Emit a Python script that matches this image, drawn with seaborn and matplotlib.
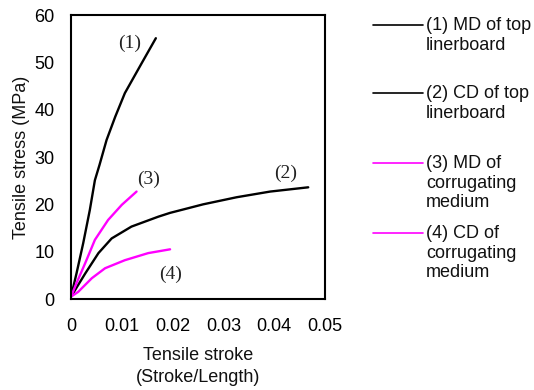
import matplotlib
matplotlib.use("Agg")
import matplotlib.pyplot as plt
from matplotlib.lines import Line2D
import seaborn as sns
import pandas as pd

sns.set_theme(style="white")
plt.rcParams['font.family'] = ['Liberation Sans', 'DejaVu Sans']

# Data
s1_x = [0.0, 0.0011, 0.0024, 0.0037, 0.0047, 0.0056, 0.0070, 0.0087, 0.0106, 0.0139, 0.0167]
s1_y = [0.5, 5.5, 11.8, 18.8, 25.1, 28.3, 33.6, 38.5, 43.5, 49.8, 55.1]
s2_x = [0.0, 0.0028, 0.0054, 0.0080, 0.0119, 0.0172, 0.0195, 0.0224, 0.0260, 0.0326, 0.0392, 0.0467]
s2_y = [0.5, 5.4, 9.7, 12.8, 15.3, 17.4, 18.2, 19.0, 20.0, 21.5, 22.7, 23.6]
s3_x = [0.0, 0.0011, 0.0028, 0.0047, 0.0073, 0.0100, 0.0129]
s3_y = [0.5, 3.4, 7.6, 12.5, 16.7, 19.9, 22.7]
s4_x = [0.0, 0.0014, 0.0041, 0.0067, 0.0106, 0.0152, 0.0195]
s4_y = [0.5, 1.5, 4.4, 6.5, 8.2, 9.7, 10.5]

series_labels = ["(1) MD of top\nlinerboard", "(2) CD of top\nlinerboard",
                 "(3) MD of\ncorrugating\nmedium", "(4) CD of\ncorrugating\nmedium"]
curve_tags = ["(1)", "(2)", "(3)", "(4)"]
tag_x = [0.0116, 0.0423, 0.0152, 0.0195]
tag_y = [54.1, 26.6, 25.3, 5.3]
colors = ["black", "black", "#FF00FF", "#FF00FF"]

frames = []
for i, (xs, ys) in enumerate([(s1_x, s1_y), (s2_x, s2_y), (s3_x, s3_y), (s4_x, s4_y)]):
    frames.append(pd.DataFrame({"x": xs, "y": ys, "s": curve_tags[i]}))
df = pd.concat(frames, ignore_index=True)

fig = plt.figure(figsize=(5.34, 3.90), dpi=100)
ax = fig.add_axes([0.133, 0.2333, 0.4756, 0.7282])

sns.lineplot(data=df, x="x", y="y", hue="s", palette=dict(zip(curve_tags, colors)),
             legend=False, ax=ax, linewidth=1.7, sort=False, estimator=None)

ax.set_xlim(0, 0.05)
ax.set_ylim(0, 60)
ax.set_xticks([0, 0.01, 0.02, 0.03, 0.04, 0.05])
ax.set_xticklabels(["0", "0.01", "0.02", "0.03", "0.04", "0.05"])
ax.set_yticks([0, 10, 20, 30, 40, 50, 60])
ax.tick_params(axis='x', direction='in', length=4, width=1.3, pad=14, labelsize=13, colors='black')
ax.tick_params(axis='y', direction='in', length=4, width=1.3, pad=12, labelsize=13, colors='black')
for sp in ax.spines.values():
    sp.set_visible(True)
    sp.set_color('black')
    sp.set_linewidth(1.5)

ax.set_xlabel("Tensile stroke\n(Stroke/Length)", fontsize=13, color='#111111', labelpad=8,
              linespacing=1.45)
ax.set_ylabel("Tensile stress (MPa)", fontsize=13, color='#111111', labelpad=3)

for t, tx, ty in zip(curve_tags, tag_x, tag_y):
    ax.text(tx, ty, t, fontsize=14, family='Liberation Serif', ha='center', va='center', color='#222222')

# Legend drawn manually
leg_line_y = [25, 93, 163, 233]
for lab, c, yy in zip(series_labels, colors, leg_line_y):
    yf = 1 - yy / 390
    fig.add_artist(Line2D([373 / 534, 423 / 534], [yf, yf], color=c, linewidth=1.2, transform=fig.transFigure))
    fig.text(426 / 534, (390 - yy + 8) / 390, lab, fontsize=13, va='top', ha='left',
             color='#111111', linespacing=1.2)

fig.savefig("out.png", dpi=100)
